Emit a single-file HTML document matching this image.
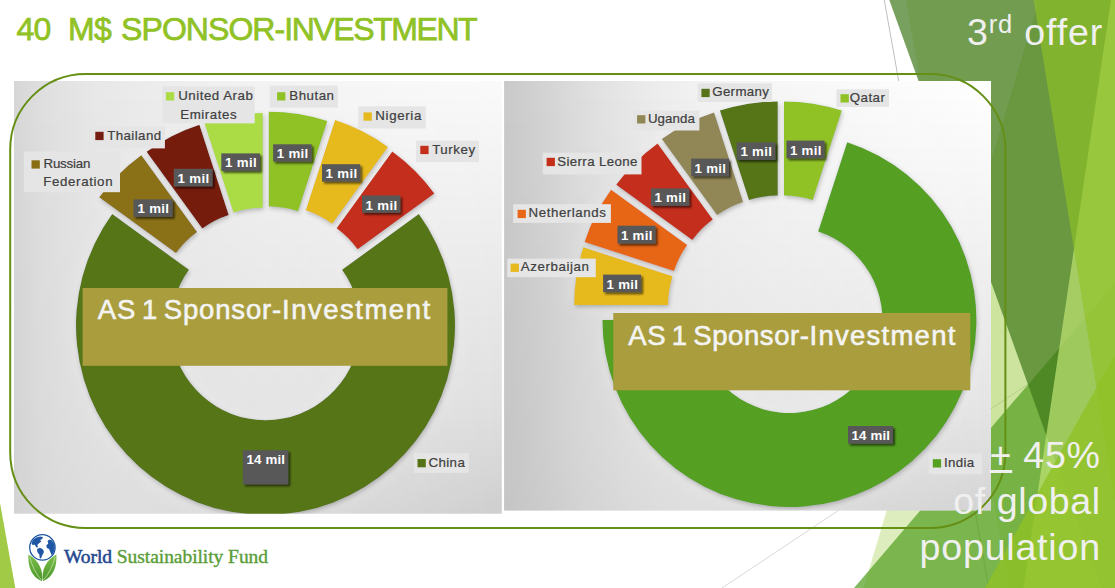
<!DOCTYPE html>
<html><head><meta charset="utf-8"><title>40 M$ Sponsor-Investment</title>
<style>
html,body{margin:0;padding:0;background:#fff;}
body{width:1115px;height:588px;position:relative;overflow:hidden;font-family:"Liberation Sans",sans-serif;}
svg{position:absolute;left:0;top:0;}
.t{position:absolute;white-space:nowrap;line-height:0;height:0;}
.t:before{content:"";display:inline-block;height:0;}
.box{position:absolute;}
</style></head><body>

<svg width="1115" height="588" viewBox="0 0 1115 588"><line x1="884.3" y1="0" x2="988.8" y2="588" stroke="#BFBFBF" stroke-width="1"/>
<line x1="1131" y1="315.6" x2="722" y2="588" stroke="#D9D9D9" stroke-width="1"/>
<polygon points="1039.0,0.0 1140.0,0.0 1140.0,588.0 863.6,588.0" fill="#90C226" fill-opacity="0.3"/>
<polygon points="906.0,0.0 1140.0,0.0 1140.0,588.0 1009.0,588.0" fill="#90C226" fill-opacity="0.2"/>
<polygon points="854.0,588.0 1133.5,261.3 1140.0,261.3 1140.0,588.0" fill="#54A021" fill-opacity="0.72"/>
<polygon points="889.3,0.0 1140.0,0.0 1140.0,588.0 1101.4,588.0" fill="#3F7819" fill-opacity="0.7"/>
<polygon points="1111.0,0.0 1140.0,0.0 1140.0,588.0 1023.6,588.0" fill="#C0E474" fill-opacity="0.7"/>
<polygon points="1033.7,0.0 1140.0,0.0 1140.0,588.0 1128.8,588.0" fill="#90C226" fill-opacity="0.65"/>
<polygon points="985.0,588.0 1140.8,307.8 1150.0,307.8 1150.0,588.0" fill="#90C226" fill-opacity="0.8"/>
<polygon points="-28.6,344.0 15.3,588.0 -28.6,588.0" fill="#90C226" fill-opacity="0.85"/></svg>
<div class="t" id="title" style="left:16.5px;top:28.9px;font-size:32px;color:#90C226;font-weight:normal;font-family:'Liberation Sans',sans-serif;letter-spacing:-0.740px;-webkit-text-stroke:0.75px #90C226;"><span class="seg" id="title_s0" style="word-spacing:9.331px">40 </span><span class="seg" id="title_s1" style="word-spacing:1.875px">M$ </span><span class="seg" id="title_s2" style="letter-spacing:-0.949px">SPONSOR-</span><span class="seg" id="title_s3" style="letter-spacing:-1.425px">INVESTMENT</span></div>
<svg width="1115" height="588" viewBox="0 0 1115 588">
<defs>
<linearGradient id="h1" gradientUnits="userSpaceOnUse" x1="14" y1="0" x2="502" y2="0"><stop offset="0.000" stop-color="#D6D6D6"/><stop offset="0.053" stop-color="#DEDEDE"/><stop offset="0.094" stop-color="#E2E2E2"/><stop offset="0.176" stop-color="#E8E8E8"/><stop offset="0.279" stop-color="#ECECEC"/><stop offset="0.514" stop-color="#F3F3F3"/><stop offset="0.791" stop-color="#F8F8F8"/><stop offset="1.000" stop-color="#FAFAFA"/></linearGradient>
<linearGradient id="h2" gradientUnits="userSpaceOnUse" x1="504" y1="0" x2="991" y2="0"><stop offset="0.000" stop-color="#C9C9C9"/><stop offset="0.074" stop-color="#D2D2D2"/><stop offset="0.156" stop-color="#DDDDDD"/><stop offset="0.238" stop-color="#E6E6E6"/><stop offset="0.320" stop-color="#EDEDED"/><stop offset="0.402" stop-color="#F2F2F2"/><stop offset="0.567" stop-color="#F7F7F7"/><stop offset="0.813" stop-color="#FCFCFC"/><stop offset="1.000" stop-color="#FFFFFF"/></linearGradient>
<linearGradient id="va" gradientUnits="userSpaceOnUse" x1="0" y1="81" x2="0" y2="512"><stop offset="0.000" stop-color="#000" stop-opacity="0"/><stop offset="0.392" stop-color="#000" stop-opacity="0.055"/><stop offset="0.508" stop-color="#000" stop-opacity="0.072"/><stop offset="0.740" stop-color="#000" stop-opacity="0.1"/><stop offset="0.903" stop-color="#000" stop-opacity="0.14"/><stop offset="1.000" stop-color="#000" stop-opacity="0.172"/></linearGradient>
<linearGradient id="m1" gradientUnits="userSpaceOnUse" x1="14" y1="0" x2="502" y2="0"><stop offset="0.000" stop-color="rgb(20,20,20)"/><stop offset="1.000" stop-color="rgb(255,255,255)"/></linearGradient>
<linearGradient id="m2" gradientUnits="userSpaceOnUse" x1="504" y1="0" x2="991" y2="0"><stop offset="0.000" stop-color="rgb(31,31,31)"/><stop offset="1.000" stop-color="rgb(255,255,255)"/></linearGradient>
<mask id="mk1" maskUnits="userSpaceOnUse" x="0" y="0" width="1115" height="588"><rect x="14" y="81" width="488" height="433" fill="url(#m1)"/></mask>
<mask id="mk2" maskUnits="userSpaceOnUse" x="0" y="0" width="1115" height="588"><rect x="504" y="81" width="487" height="430" fill="url(#m2)"/></mask>
<filter id="sh" x="-10%" y="-10%" width="125%" height="125%">
<feGaussianBlur in="SourceAlpha" stdDeviation="9" result="g0"/><feFlood flood-color="#F4F4F4" flood-opacity="0.4"/><feComposite in2="g0" operator="in" result="glow"/>
<feGaussianBlur in="SourceAlpha" stdDeviation="2.6"/><feOffset dx="0.8" dy="1.6"/>
<feComponentTransfer result="shd"><feFuncA type="linear" slope="0.42"/></feComponentTransfer>
<feMerge><feMergeNode in="glow"/><feMergeNode in="shd"/><feMergeNode in="SourceGraphic"/></feMerge></filter>
<filter id="sh2" x="-20%" y="-20%" width="150%" height="160%"><feGaussianBlur in="SourceAlpha" stdDeviation="1.2"/><feOffset dx="2" dy="2.2"/>
<feComponentTransfer><feFuncA type="linear" slope="0.6"/></feComponentTransfer><feMerge><feMergeNode/><feMergeNode in="SourceGraphic"/></feMerge></filter>
<clipPath id="cl1"><rect x="14" y="81" width="487.8" height="432.70000000000005"/></clipPath>
<clipPath id="cl2"><rect x="504.1" y="81" width="486.9" height="429.6"/></clipPath>
</defs>
<rect x="14" y="81" width="487.8" height="432.7" fill="url(#h1)"/>
<rect x="14" y="81" width="487.8" height="432.7" fill="url(#va)" mask="url(#mk1)"/>
<rect x="504.1" y="81" width="486.9" height="429.6" fill="url(#h2)"/>
<rect x="504.1" y="81" width="486.9" height="429.6" fill="url(#va)" mask="url(#mk2)"/>
<g clip-path="url(#cl1)"><g filter="url(#sh)"><path d="M418.8,214.1 A189.5,189.5 0 1 1 112.2,214.1 L188.9,269.8 A94.7,94.7 0 1 0 342.1,269.8 Z" fill="#567417"/>
<path d="M99.3,197.3 A189.5,189.5 0 0 1 141.3,155.3 L197.0,232.0 A94.7,94.7 0 0 0 176.0,253.0 Z" fill="#8A6F12"/>
<path d="M146.6,151.7 A189.5,189.5 0 0 1 199.4,124.8 L228.7,214.9 A94.7,94.7 0 0 0 202.3,228.4 Z" fill="#761C10"/>
<path d="M204.2,122.2 A189.5,189.5 0 0 1 262.7,113.0 L262.7,207.8 A94.7,94.7 0 0 0 233.5,212.4 Z" fill="#ABDB45"/>
<path d="M268.8,111.8 A189.5,189.5 0 0 1 327.3,121.0 L298.0,211.2 A94.7,94.7 0 0 0 268.8,206.6 Z" fill="#90C226"/>
<path d="M335.1,120.1 A189.5,189.5 0 0 1 387.9,147.0 L332.2,223.7 A94.7,94.7 0 0 0 305.8,210.2 Z" fill="#E6B91E"/>
<path d="M392.3,151.6 A189.5,189.5 0 0 1 434.3,193.6 L357.6,249.3 A94.7,94.7 0 0 0 336.6,228.3 Z" fill="#C42F1A"/></g></g>
<g clip-path="url(#cl2)"><g filter="url(#sh)"><path d="M847.2,142.2 A187.0,187.0 0 1 1 602.4,320.0 L696.4,320.0 A93.0,93.0 0 1 0 818.2,231.6 Z" fill="#54A021"/>
<path d="M574.1,305.1 A187.0,187.0 0 0 1 583.2,247.3 L672.6,276.3 A93.0,93.0 0 0 0 668.1,305.1 Z" fill="#E6B91E"/>
<path d="M584.6,241.9 A187.0,187.0 0 0 1 611.1,189.8 L687.2,245.1 A93.0,93.0 0 0 0 674.0,271.0 Z" fill="#E76618"/>
<path d="M616.2,184.7 A187.0,187.0 0 0 1 657.6,143.4 L712.8,219.4 A93.0,93.0 0 0 0 692.3,240.0 Z" fill="#C42F1A"/>
<path d="M661.9,139.1 A187.0,187.0 0 0 1 714.0,112.5 L743.0,201.9 A93.0,93.0 0 0 0 717.1,215.1 Z" fill="#918655"/>
<path d="M719.9,110.6 A187.0,187.0 0 0 1 777.7,101.4 L777.7,195.4 A93.0,93.0 0 0 0 749.0,200.0 Z" fill="#567417"/>
<path d="M784.0,101.4 A187.0,187.0 0 0 1 841.8,110.6 L812.7,200.0 A93.0,93.0 0 0 0 784.0,195.4 Z" fill="#90C226"/></g></g>
<rect x="82.6" y="288" width="364.8" height="77.8" fill="#A99D3E"/>
<rect x="613.3" y="313" width="357" height="77.3" fill="#A99D3E"/>
<rect x="23.8" y="151.4" width="96.2" height="40.8" fill="#E5E5E5"/>
<rect x="31.5" y="160.3" width="8.3" height="8.3" fill="#8A6F12"/>
<rect x="89.4" y="126.4" width="75.5" height="22.0" fill="#E5E5E5"/>
<rect x="95.3" y="131.8" width="8.3" height="8.3" fill="#761C10"/>
<rect x="162.3" y="86.4" width="92.4" height="37.0" fill="#E5E5E5"/>
<rect x="165.9" y="92.2" width="8.3" height="8.3" fill="#ABDB45"/>
<rect x="269.7" y="85.6" width="68.1" height="22.0" fill="#E5E5E5"/>
<rect x="277.1" y="92.2" width="8.3" height="8.3" fill="#90C226"/>
<rect x="358.2" y="106.3" width="67.6" height="22.2" fill="#E5E5E5"/>
<rect x="363.5" y="112.4" width="8.3" height="8.3" fill="#E6B91E"/>
<rect x="416.1" y="140.7" width="62.8" height="21.4" fill="#E5E5E5"/>
<rect x="420.3" y="145.8" width="8.3" height="8.3" fill="#C42F1A"/>
<rect x="413.8" y="453.2" width="55.0" height="19.6" fill="#E5E5E5"/>
<rect x="417.5" y="459.0" width="8.3" height="8.3" fill="#567417"/>
<rect x="507.3" y="258.6" width="88.5" height="18.6" fill="#E5E5E5"/>
<rect x="510.6" y="263.6" width="8.3" height="8.3" fill="#E6B91E"/>
<rect x="513.2" y="204.2" width="97.7" height="18.7" fill="#E5E5E5"/>
<rect x="517.6" y="209.8" width="8.3" height="8.3" fill="#E76618"/>
<rect x="542.8" y="152.7" width="98.7" height="21.7" fill="#E5E5E5"/>
<rect x="546.6" y="157.8" width="8.3" height="8.3" fill="#C42F1A"/>
<rect x="633.0" y="110.6" width="66.4" height="19.9" fill="#E5E5E5"/>
<rect x="637.1" y="115.2" width="8.3" height="8.3" fill="#918655"/>
<rect x="697.6" y="83.2" width="74.4" height="18.8" fill="#E5E5E5"/>
<rect x="701.4" y="88.8" width="8.3" height="8.3" fill="#567417"/>
<rect x="836.4" y="89.3" width="52.6" height="17.7" fill="#E5E5E5"/>
<rect x="840.5" y="94.2" width="8.3" height="8.3" fill="#90C226"/>
<rect x="928.8" y="453.6" width="53.2" height="20.7" fill="#E5E5E5"/>
<rect x="932.8" y="459.2" width="8.3" height="8.3" fill="#54A021"/>
<g filter="url(#sh2)">
<rect x="133.5" y="199.4" width="39.1" height="17.4" fill="#595959"/>
<rect x="173.8" y="168.8" width="38.8" height="17.6" fill="#595959"/>
<rect x="221.3" y="153.4" width="38.7" height="17.6" fill="#595959"/>
<rect x="273.1" y="144.3" width="38.6" height="17.3" fill="#595959"/>
<rect x="322.0" y="164.2" width="38.3" height="17.4" fill="#595959"/>
<rect x="362.0" y="195.5" width="38.3" height="17.3" fill="#595959"/>
<rect x="242.8" y="450.2" width="45.4" height="34.1" fill="#595959"/>
<rect x="603.1" y="274.6" width="38.0" height="17.6" fill="#595959"/>
<rect x="617.5" y="225.7" width="38.1" height="17.9" fill="#595959"/>
<rect x="650.9" y="188.4" width="38.3" height="17.4" fill="#595959"/>
<rect x="691.2" y="158.6" width="37.8" height="17.6" fill="#595959"/>
<rect x="736.7" y="142.3" width="38.7" height="17.6" fill="#595959"/>
<rect x="786.5" y="140.6" width="38.0" height="17.8" fill="#595959"/>
<rect x="848.0" y="426.0" width="45.0" height="17.6" fill="#595959"/>
</g>
<rect x="10.2" y="74" width="995.2" height="454" rx="75.5" ry="75.5" fill="none" stroke="#658F15" stroke-width="2"/>
</svg>
<div class="t" id="as1" style="left:97.8px;top:310.0px;font-size:27.5px;color:#F4F4F2;font-weight:normal;font-family:'Liberation Sans',sans-serif;letter-spacing:0.832px;-webkit-text-stroke:0.6px #F4F4F2;"><span class="seg" id="as1_s0" style="word-spacing:-2.711px">AS 1 </span><span class="seg" id="as1_s1" style="letter-spacing:0.838px">Sponsor-</span><span class="seg" id="as1_s2" style="letter-spacing:1.498px">Investment</span></div>
<div class="t" id="as2" style="left:628.3px;top:335.5px;font-size:27.5px;color:#F4F4F2;font-weight:normal;font-family:'Liberation Sans',sans-serif;letter-spacing:0.593px;-webkit-text-stroke:0.6px #F4F4F2;"><span class="seg" id="as2_s0" style="word-spacing:-2.617px">AS 1 </span><span class="seg" id="as2_s1" style="letter-spacing:0.588px">Sponsor-</span><span class="seg" id="as2_s2" style="letter-spacing:1.248px">Investment</span></div>
<div class="t" id="v0" style="left:137.5px;top:209.4px;font-size:13.3px;color:#FFFFFF;font-weight:bold;font-family:'Liberation Sans',sans-serif;letter-spacing:0.298px;">1 mil</div>
<div class="t" id="v1" style="left:177.6px;top:178.8px;font-size:13.3px;color:#FFFFFF;font-weight:bold;font-family:'Liberation Sans',sans-serif;letter-spacing:0.298px;">1 mil</div>
<div class="t" id="v2" style="left:225.1px;top:163.4px;font-size:13.3px;color:#FFFFFF;font-weight:bold;font-family:'Liberation Sans',sans-serif;letter-spacing:0.298px;">1 mil</div>
<div class="t" id="v3" style="left:276.8px;top:154.3px;font-size:13.3px;color:#FFFFFF;font-weight:bold;font-family:'Liberation Sans',sans-serif;letter-spacing:0.298px;">1 mil</div>
<div class="t" id="v4" style="left:325.6px;top:174.2px;font-size:13.3px;color:#FFFFFF;font-weight:bold;font-family:'Liberation Sans',sans-serif;letter-spacing:0.298px;">1 mil</div>
<div class="t" id="v5" style="left:365.6px;top:205.5px;font-size:13.3px;color:#FFFFFF;font-weight:bold;font-family:'Liberation Sans',sans-serif;letter-spacing:0.298px;">1 mil</div>
<div class="t" id="v6" style="left:246.4px;top:460.2px;font-size:13.3px;color:#FFFFFF;font-weight:bold;font-family:'Liberation Sans',sans-serif;letter-spacing:0.184px;">14 mil</div>
<div class="t" id="v7" style="left:606.5px;top:284.6px;font-size:13.3px;color:#FFFFFF;font-weight:bold;font-family:'Liberation Sans',sans-serif;letter-spacing:0.298px;">1 mil</div>
<div class="t" id="v8" style="left:620.9px;top:235.7px;font-size:13.3px;color:#FFFFFF;font-weight:bold;font-family:'Liberation Sans',sans-serif;letter-spacing:0.298px;">1 mil</div>
<div class="t" id="v9" style="left:654.4px;top:198.4px;font-size:13.3px;color:#FFFFFF;font-weight:bold;font-family:'Liberation Sans',sans-serif;letter-spacing:0.298px;">1 mil</div>
<div class="t" id="v10" style="left:694.5px;top:168.6px;font-size:13.3px;color:#FFFFFF;font-weight:bold;font-family:'Liberation Sans',sans-serif;letter-spacing:0.298px;">1 mil</div>
<div class="t" id="v11" style="left:740.4px;top:152.3px;font-size:13.3px;color:#FFFFFF;font-weight:bold;font-family:'Liberation Sans',sans-serif;letter-spacing:0.298px;">1 mil</div>
<div class="t" id="v12" style="left:789.9px;top:150.6px;font-size:13.3px;color:#FFFFFF;font-weight:bold;font-family:'Liberation Sans',sans-serif;letter-spacing:0.298px;">1 mil</div>
<div class="t" id="v13" style="left:851.4px;top:436.0px;font-size:13.3px;color:#FFFFFF;font-weight:bold;font-family:'Liberation Sans',sans-serif;letter-spacing:0.184px;">14 mil</div>
<div class="t" id="l0" style="left:43.5px;top:163.6px;font-size:13.3px;color:#404040;font-weight:normal;font-family:'Liberation Sans',sans-serif;letter-spacing:-0.192px;-webkit-text-stroke:0.22px #404040;">Russian</div>
<div class="t" id="l1" style="left:43.2px;top:182.1px;font-size:13.3px;color:#404040;font-weight:normal;font-family:'Liberation Sans',sans-serif;letter-spacing:0.642px;-webkit-text-stroke:0.22px #404040;">Federation</div>
<div class="t" id="l2" style="left:107.2px;top:135.6px;font-size:13.3px;color:#404040;font-weight:normal;font-family:'Liberation Sans',sans-serif;letter-spacing:0.423px;-webkit-text-stroke:0.22px #404040;">Thailand</div>
<div class="t" id="l3" style="left:178.2px;top:96.3px;font-size:13.3px;color:#404040;font-weight:normal;font-family:'Liberation Sans',sans-serif;letter-spacing:0.519px;-webkit-text-stroke:0.22px #404040;">United Arab</div>
<div class="t" id="l4" style="left:180.2px;top:115.4px;font-size:13.3px;color:#404040;font-weight:normal;font-family:'Liberation Sans',sans-serif;letter-spacing:0.579px;-webkit-text-stroke:0.22px #404040;">Emirates</div>
<div class="t" id="l5" style="left:289.3px;top:96.3px;font-size:13.3px;color:#404040;font-weight:normal;font-family:'Liberation Sans',sans-serif;letter-spacing:0.508px;-webkit-text-stroke:0.22px #404040;">Bhutan</div>
<div class="t" id="l6" style="left:375.3px;top:116.2px;font-size:13.3px;color:#404040;font-weight:normal;font-family:'Liberation Sans',sans-serif;letter-spacing:0.654px;-webkit-text-stroke:0.22px #404040;">Nigeria</div>
<div class="t" id="l7" style="left:432.2px;top:149.8px;font-size:13.3px;color:#404040;font-weight:normal;font-family:'Liberation Sans',sans-serif;letter-spacing:0.542px;-webkit-text-stroke:0.22px #404040;">Turkey</div>
<div class="t" id="l8" style="left:428.5px;top:463.0px;font-size:13.3px;color:#404040;font-weight:normal;font-family:'Liberation Sans',sans-serif;letter-spacing:0.390px;-webkit-text-stroke:0.22px #404040;">China</div>
<div class="t" id="l9" style="left:520.8px;top:267.4px;font-size:13.3px;color:#404040;font-weight:normal;font-family:'Liberation Sans',sans-serif;letter-spacing:0.577px;-webkit-text-stroke:0.22px #404040;">Azerbaijan</div>
<div class="t" id="l10" style="left:528.5px;top:213.3px;font-size:13.3px;color:#404040;font-weight:normal;font-family:'Liberation Sans',sans-serif;letter-spacing:0.572px;-webkit-text-stroke:0.22px #404040;">Netherlands</div>
<div class="t" id="l11" style="left:557.3px;top:161.6px;font-size:13.3px;color:#404040;font-weight:normal;font-family:'Liberation Sans',sans-serif;letter-spacing:0.355px;-webkit-text-stroke:0.22px #404040;">Sierra Leone</div>
<div class="t" id="l12" style="left:647.9px;top:118.8px;font-size:13.3px;color:#404040;font-weight:normal;font-family:'Liberation Sans',sans-serif;letter-spacing:0.086px;-webkit-text-stroke:0.22px #404040;">Uganda</div>
<div class="t" id="l13" style="left:712.2px;top:92.4px;font-size:13.3px;color:#404040;font-weight:normal;font-family:'Liberation Sans',sans-serif;letter-spacing:0.345px;-webkit-text-stroke:0.22px #404040;">Germany</div>
<div class="t" id="l14" style="left:849.7px;top:97.8px;font-size:13.3px;color:#404040;font-weight:normal;font-family:'Liberation Sans',sans-serif;letter-spacing:0.487px;-webkit-text-stroke:0.22px #404040;">Qatar</div>
<div class="t" id="l15" style="left:944.1px;top:463.0px;font-size:13.3px;color:#404040;font-weight:normal;font-family:'Liberation Sans',sans-serif;letter-spacing:0.312px;-webkit-text-stroke:0.22px #404040;">India</div>
<div class="t" id="r1" style="left:967.0px;top:31.6px;font-size:37.6px;color:#F0F0F0;font-weight:normal;font-family:'Liberation Sans',sans-serif;letter-spacing:0.826px;">3<span style="font-size:25.5px;position:relative;top:-11.2px">rd</span> offer</div>
<div class="t" id="r2" style="left:989.6px;top:454.5px;font-size:37.6px;color:#F0F0F0;font-weight:normal;font-family:'Liberation Sans',sans-serif;letter-spacing:0.678px;"><span style="text-decoration:underline">+</span> 45%</div>
<div class="t" id="r3" style="left:0.0px;top:500.7px;font-size:37.6px;color:#F0F0F0;font-weight:normal;font-family:'Liberation Sans',sans-serif;letter-spacing:0.590px;left:auto;right:14.4px;">of global</div>
<div class="t" id="r4" style="left:0.0px;top:547.4px;font-size:37.6px;color:#F0F0F0;font-weight:normal;font-family:'Liberation Sans',sans-serif;letter-spacing:0.776px;left:auto;right:14.2px;">population</div>
<svg width="1115" height="588" viewBox="0 0 1115 588">
<defs><linearGradient id="lf" x1="0" y1="0" x2="0" y2="1"><stop offset="0" stop-color="#7DBE4A"/><stop offset="1" stop-color="#4A962A"/></linearGradient></defs>
<g id="logo">
<path d="M28.4,554.6 C27.6,566 31.5,577.5 41.9,581.2 C43.6,571.5 39.5,560.5 28.4,554.6 Z" fill="url(#lf)"/>
<path d="M56.4,554.6 C57.2,566 53.3,577.5 42.9,581.2 C41.2,571.5 45.3,560.5 56.4,554.6 Z" fill="url(#lf)"/>
<path d="M29.6,557 C32,566 36,574 41.6,580.4" stroke="#CFE8B8" stroke-width="0.7" fill="none"/>
<path d="M55.2,557 C52.8,566 48.8,574 43.2,580.4" stroke="#CFE8B8" stroke-width="0.7" fill="none"/>
<circle cx="42.4" cy="547.4" r="12.7" fill="#fff" stroke="#1F57A4" stroke-width="1.3"/>
<path d="M31.4,543.3 L33.0,539.7 L36.3,537.4 L40.2,536.4 L42.9,537.0 L42.2,539.0 L40.0,540.0 L41.4,541.5 L39.3,543.1 L37.3,545.1 L38.1,547.6 L36.3,547.2 L34.7,544.8 L32.6,545.1 Z" fill="#1F57A4"/>
<path d="M37.1,548.9 L40.0,547.8 L43.0,549.4 L44.0,552.1 L42.4,555.1 L41.0,558.6 L39.8,558.2 L39.3,554.5 L37.3,552.1 Z" fill="#1F57A4"/>
<path d="M46.3,545.6 L48.3,543.5 L47.5,541.1 L49.3,539.4 L51.8,540.2 L53.8,543.3 L54.9,547.4 L53.8,552.1 L51.8,555.3 L50.2,552.1 L49.1,549.0 L46.9,548.0 Z" fill="#1F57A4"/>
</g></svg>
<div class="t" id="lg1" style="left:64.0px;top:557.4px;font-size:19.5px;color:#24478F;font-weight:normal;font-family:'Liberation Serif',serif;letter-spacing:-0.055px;"><span style="color:#24478F;-webkit-text-stroke:0.55px #24478F">World</span> <span style="color:#5A9E3A;-webkit-text-stroke:0.4px #5A9E3A">Sustainability Fund</span></div>
</body></html>
